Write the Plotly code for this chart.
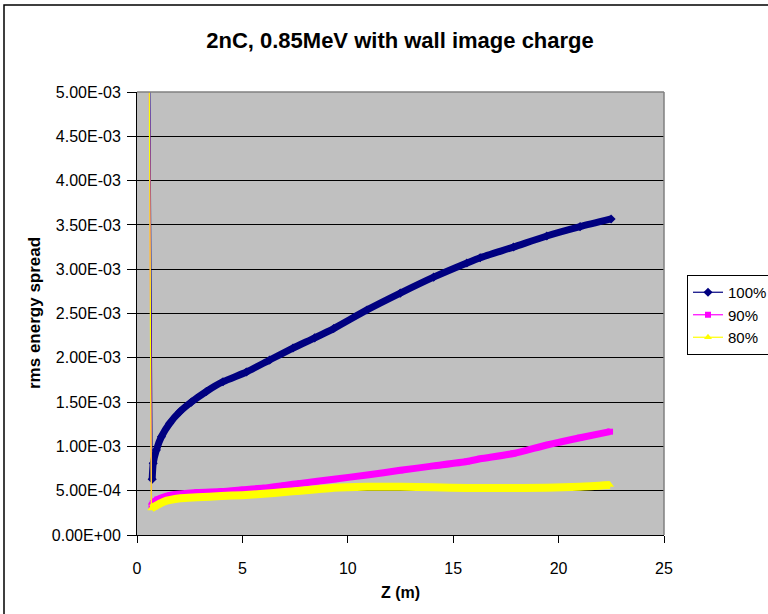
import plotly.graph_objects as go

# ---- data (values in units of 1e-3) ----
series_names = ["100%", "90%", "80%"]

z100 = [0.5, 0.72, 0.77, 0.92, 1.16, 1.55, 2.03, 2.58, 3.29, 4.08, 5.19, 6.29, 7.40, 8.43,
        9.33, 10.91, 12.49, 14.07, 15.65, 16.28, 17.86, 19.44, 21.02, 22.49]
v100 = [9.1, 0.63, 0.81, 0.96, 1.11, 1.26, 1.39, 1.50, 1.62, 1.73, 1.84, 1.975, 2.11, 2.225,
        2.33, 2.54, 2.73, 2.91, 3.07, 3.13, 3.25, 3.375, 3.48, 3.567]

z90 = [0.5, 0.69, 0.75, 0.96, 1.59, 2.85, 4.0, 5.0, 6.0, 7.0, 7.75, 9.33, 10.91, 12.49,
       14.07, 15.65, 16.28, 17.86, 19.44, 21.02, 22.44]
v90 = [9.1, 0.33, 0.36, 0.40, 0.45, 0.48, 0.49, 0.51, 0.53, 0.56, 0.583, 0.63, 0.677, 0.73,
       0.78, 0.83, 0.86, 0.92, 1.016, 1.098, 1.166]

z80 = [0.5, 0.68, 0.75, 1.27, 2.06, 2.85, 4.0, 5.0, 6.0, 7.0, 7.75, 8.54, 9.33, 10.91,
       12.49, 14.07, 15.65, 17.23, 19.44, 21.02, 22.44]
v80 = [9.1, 0.30, 0.31, 0.376, 0.414, 0.425, 0.44, 0.45, 0.465, 0.485, 0.50, 0.516, 0.534, 0.545,
       0.545, 0.538, 0.53, 0.53, 0.534, 0.545, 0.564]

y_tickvals = [0, 0.0005, 0.001, 0.0015, 0.002, 0.0025, 0.003, 0.0035, 0.004, 0.0045, 0.005]
y_ticktext = ["0.00E+00", "5.00E-04", "1.00E-03", "1.50E-03", "2.00E-03", "2.50E-03",
              "3.00E-03", "3.50E-03", "4.00E-03", "4.50E-03", "5.00E-03"]
x_tickvals = [0, 5, 10, 15, 20, 25]

FONT = "Liberation Sans, Arial, sans-serif"
colors = ["#000080", "#FF00FF", "#FFFF00"]
symbols = ["diamond", "square", "triangle-up"]
msizes = [7, 6, 7]
thick = [7, 7, 8]

fig = go.Figure()
for name, zs, vs, c, s, ms, w in zip(series_names, [z100, z90, z80], [v100, v90, v80],
                                     colors, symbols, msizes, thick):
    ys = [v * 1e-3 for v in vs]
    fig.add_trace(go.Scatter(x=zs, y=ys, name=name, mode="lines+markers",
                             line=dict(color=c, width=1.2),
                             marker=dict(color=c, symbol=s, size=ms),
                             showlegend=True, hoverinfo="skip"))
    fig.add_trace(go.Scatter(x=zs[1:], y=ys[1:], mode="lines",
                             line=dict(color=c, width=w, shape="spline", smoothing=0.6),
                             showlegend=False, hoverinfo="skip"))

W, H = 768, 614
# plot area in screen px
L, R, T, B = 137, 664, 92, 535
pw, ph = R - L, B - T

def px_x(p):  # screen px -> paper x
    return (p - L) / pw

def px_y(p):  # screen px -> paper y
    return (B - p) / ph

fig.update_layout(
    width=W, height=H, autosize=False,
    margin=dict(l=L, r=W - R, t=T, b=H - B, pad=0),
    paper_bgcolor="white",
    plot_bgcolor="#C0C0C0",
    font=dict(family=FONT, size=16, color="black"),
    title=dict(text="<b>2nC, 0.85MeV with wall image charge</b>",
               font=dict(family=FONT, size=22, color="black"),
               x=px_x(400), xref="paper", xanchor="center",
               y=1 - 40 / H, yref="container", yanchor="middle"),
    xaxis=dict(range=[0, 25], tickvals=x_tickvals, ticks="outside", ticklen=7,
               tickcolor="black", showline=True, linecolor="black", linewidth=1,
               showgrid=False, zeroline=False, tickfont=dict(size=16),
               ticklabelstandoff=12),
    yaxis=dict(range=[0, 0.005], tickvals=y_tickvals, ticktext=y_ticktext,
               ticks="outside", ticklen=9, tickcolor="black", showline=True,
               linecolor="black", linewidth=1, showgrid=True, gridcolor="black",
               gridwidth=1, zeroline=False, tickfont=dict(size=16),
               ticklabelstandoff=3),
    legend=dict(x=687 / W, y=1 - 275 / H, xref="container", yref="container",
                xanchor="left", yanchor="top",
                bgcolor="white", bordercolor="black", borderwidth=1,
                font=dict(family=FONT, size=15), traceorder="normal",
                itemwidth=30, tracegroupgap=0),
    showlegend=True,
    annotations=[
        dict(text="<b>Z (m)</b>", x=px_x(400), y=px_y(592), xref="paper", yref="paper",
             showarrow=False, font=dict(size=16), xanchor="center", yanchor="middle"),
        dict(text="<b>rms energy spread</b>", x=px_x(34), y=px_y(313), xref="paper",
             yref="paper", showarrow=False, textangle=-90, font=dict(size=17),
             xanchor="center", yanchor="middle"),
    ],
    shapes=[
        dict(type="rect", xref="paper", yref="paper", x0=px_x(4), x1=px_x(900),
             y0=px_y(800), y1=px_y(5), line=dict(color="black", width=1.5),
             fillcolor="rgba(0,0,0,0)", layer="below"),
        dict(type="line", xref="paper", yref="paper", x0=0, x1=1, y0=1, y1=1,
             line=dict(color="#808080", width=1.5)),
        dict(type="line", xref="paper", yref="paper", x0=1, x1=1, y0=0, y1=1,
             line=dict(color="#808080", width=1.5)),
    ],
)

fig.write_html("out.html",
               config={"displayModeBar": False},
               post_script="document.body.style.margin='0';document.body.style.overflow='hidden';")
